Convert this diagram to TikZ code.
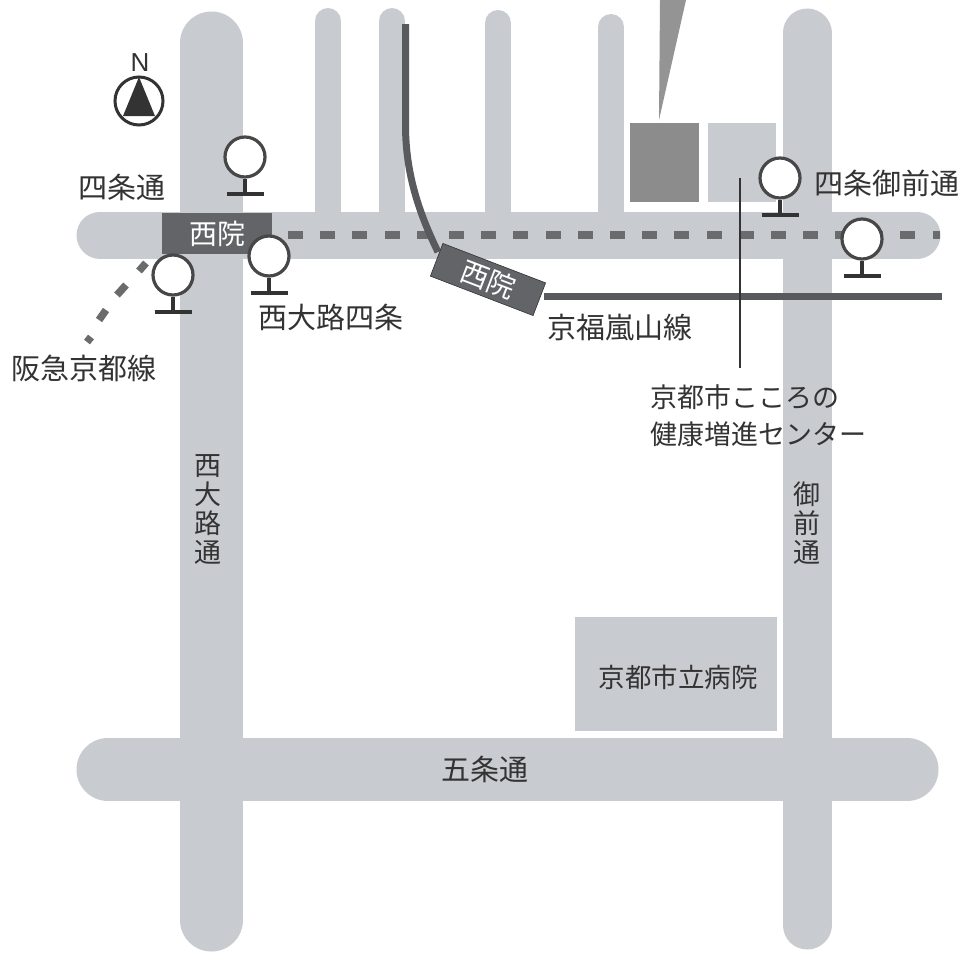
\documentclass[tikz,border=0pt]{standalone}
\usepackage{fontspec}
\setmainfont{Noto Sans CJK JP}
\newfontfamily\latinf{Liberation Sans}
\definecolor{roadc}{HTML}{C8CBD0}
\definecolor{stn}{HTML}{626467}
\definecolor{rail}{HTML}{585A5D}
\definecolor{inkc}{HTML}{333333}
\tikzset{
  x=1pt,y=-1pt,
  road/.style={draw=roadc,line cap=round},
  mainroad/.style={road,line width=47pt},
  bigroad/.style={road,line width=63pt},
  sideroad/.style={road,line width=26pt},
  block/.style={rectangle,inner sep=0pt,anchor=north west},
  lbl/.style={inner sep=0pt,text=inkc,font=\fontsize{29}{32}\selectfont},
  smalllbl/.style={lbl,font=\fontsize{26.5}{30}\selectfont},
  centerlbl/.style={lbl,anchor=west,font=\fontsize{27}{30}\selectfont},
  vertlbl/.style={inner sep=0pt,text=inkc,align=center,font=\fontsize{27}{29}\selectfont},
  stnbox/.style={rectangle,fill=stn,draw=inkc,line width=0.6pt,inner sep=0pt,text=white,font=\fontsize{28}{30}\selectfont},
  stopring/.style={circle,draw=inkc!90,fill=white,line width=3.2pt,minimum size=40pt,inner sep=0pt},
  stopline/.style={draw=inkc,line width=3.4pt},
  trackdash/.style={draw=rail!90,line width=7.5pt},
  trackline/.style={draw=rail,line width=7pt},
}
\newcommand{\stopmark}[3]{%
  \node[stopring] (#1) at (#2,#3) {};
  \coordinate (#1foot) at (#2,#3+37);
  \draw[stopline] (#1.south) -- (#1foot);
  \draw[stopline] ([xshift=-18.5pt]#1foot) -- ([xshift=18.5pt]#1foot);
}
\begin{document}
\begin{tikzpicture}
\useasboundingbox (0,0) rectangle (964,956);
\fill[white] (0,0) rectangle (964,956);
% roads
\draw[sideroad] (328,21) -- (328,225);
\draw[sideroad] (392,21) -- (392,225);
\draw[sideroad] (498,23) -- (498,225);
\draw[sideroad] (611,27) -- (611,225);
\draw[bigroad] (211.5,43) -- (211.5,920);
\draw[road,line width=49pt] (807,33) -- (807,925);
\draw[mainroad] (100,235) -- (917,235);
\draw[bigroad] (108,769.5) -- (907,769.5);
% buildings
\node[block,fill=black!45,minimum width=69pt,minimum height=79pt] (bldgdark) at (630,123) {};
\node[block,fill=roadc,minimum width=68pt,minimum height=79pt] (bldglight) at (708,123) {};
\node[block,fill=roadc,minimum width=202pt,minimum height=114pt] (hospital) at (575,617) {};
\fill[black!42] (660,0) -- (686,0) -- (659,120) -- cycle;
% dashed railway
\foreach \k in {0,...,19}{\fill[rail!90] (288+32.2*\k,231) rectangle (303+32.2*\k,239);}
\fill[rail!90] (933,231) rectangle (940,239);
% randen
\coordinate (randentop) at (405.5,24);
\coordinate (randenend) at (438,252);
\draw[trackline] (randentop) -- (405.5,125) .. controls (405.5,175) and (420,215) .. (randenend);
\coordinate (randenright) at (942,296);
\node[stnbox,rotate=-21,minimum width=110pt,minimum height=35pt] (saiin2) at (488,279.5) {西院};
\draw[trackline] (544,296) -- (randenright);
% Saiin hankyu
\node[stnbox,draw=none,minimum width=110pt,minimum height=41pt] (saiin1) at (217,233.5) {西院};
% hankyu dashes
\draw[trackdash] (146,263) -- (139,271);
\draw[trackdash] (126,285) -- (117,295);
\draw[trackdash] (106,310) -- (99,320);
\draw[trackdash] (91,337) -- (87,342);
% leader
\coordinate (leadertop) at (740,178);
\coordinate (leaderend) at (740,368);
\draw[inkc,line width=2.2pt] (leadertop) -- (leaderend);
% stops
\stopmark{stopa}{245}{157}
\stopmark{stopb}{269}{256}
\stopmark{stopc}{173}{275}
\stopmark{stopd}{780}{178}
\stopmark{stope}{862}{239}
% compass
\node[circle,draw=inkc,fill=white,line width=3pt,minimum size=48pt,inner sep=0pt] (compass) at (139,101) {};
\fill[inkc] (139,77) -- (155,116) -- (123,116) -- cycle;
\node[inner sep=0pt,text=inkc,font=\latinf\fontsize{26}{26}\selectfont] (north) at (140,63) {N};
% labels
\node[lbl] (shijo) at (122,187) {四条通};
\node[lbl] (shijogomae) at (887,183) {四条御前通};
\node[lbl] (nishioji4) at (331,317) {西大路四条};
\node[lbl] (hankyu) at (84,368) {阪急京都線};
\node[lbl] (randen) at (620,328) {京福嵐山線};
\node[centerlbl] (center1) at (650,397) {京都市こころの};
\node[centerlbl] (center2) at (650,434) {健康増進センター};
\node[smalllbl] (hosplabel) at (678,677) {京都市立病院};
\node[lbl] (gojo) at (485,769) {五条通};
\node[vertlbl] (nishiojidori) at (208,510) {西\\大\\路\\通};
\node[vertlbl] (gomaedori) at (807,523) {御\\前\\通};
\end{tikzpicture}
\end{document}
